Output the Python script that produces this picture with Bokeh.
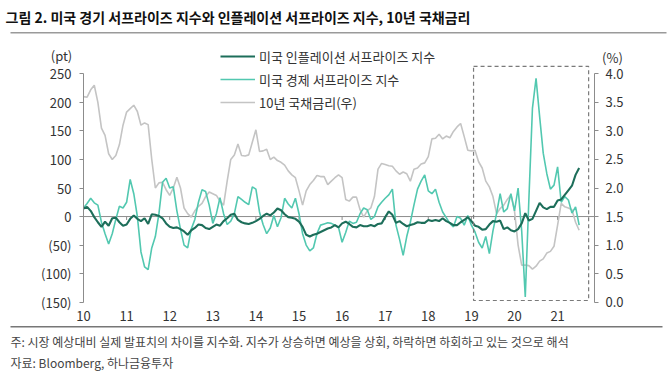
import numpy as np
from bokeh.plotting import figure
from bokeh.models import (Range1d, LinearAxis, FixedTicker, Label, Legend, LegendItem,
                          BoxAnnotation, NumeralTickFormatter)
from bokeh.embed import file_html
from bokeh.resources import INLINE

# ---------------- data (monthly, Jan 2010 - Jul 2021) ----------------
start_year = 2010
econ_surprise = [15, 23, 32, 24, 20, -10, -30, -48, -30, -5, 18, 15, 25, 65, 40, 0, -62, -88, -93, -55,
                 -35, 5, 60, 67, 50, 52, 10, -22, -50, -55, -22, -5, 25, 47, 44, 20, -12, 5, 33, 5,
                 -14, -8, 5, 35, 30, 25, 21, 52, 48, 8, -14, -30, -20, 2, -18, -2, 32, 22, 15, 32, 5,
                 -30, -50, -60, -55, -30, -15, -13, -11, -12, -15, -19, -45, -28, -8, -12, -10, 5, 15, 12, -5,
                 0, 17, 25, 32, 38, 48, -15, -40, -68, -35, -10, 20, 48, 62, 73, 45, 40, 48, 25, 8,
                 -2, -12, -18, 0, -3, -15, 2, -15, -27, -45, -55, -35, -65, -25, 5, 40, 8, 14, 40, 10,
                 50, -25, -141, 30, 190, 242, 175, 111, 75, 48, 55, 87, 25, 35, 29, 6, 17, -15]
infl_surprise = [14, 17, 10, -1, -10, -18, -9, -16, -3, -2, -10, -16, -14, -4, 2, -4, -8, -3, -13, 4,
                 3, 1, -3, -12, -18, -20, -19, -22, -26, -32, -24, -20, -14, -15, -20, -22, -18, -14, -16, -8,
                 -3, 3, 5, -6, -10, -12, -13, -11, -8, -4, 1, 5, 2, 7, 14, 11, 4, -1, -2, -4, -9,
                 -18, -32, -35, -32, -30, -27, -24, -21, -19, -15, -19, -12, -9, -13, -18, -19, -15, -17, -17, -15,
                 -17, -13, -12, -1, 9, 3, -11, -8, -13, -17, -15, -13, -10, -11, -11, -6, -8, -6, -8, -3,
                 -8, -11, -15, -15, -10, -6, -1, -8, -16, -18, -23, -22, -14, -8, -9, -7, -22, -19, -24, -26,
                 -22, -12, 6, -7, -4, 10, 24, 16, 13, 17, 17, 28, 30, 38, 46, 54, 73, 85]
ust10y = [3.60, 3.59, 3.72, 3.80, 3.50, 3.05, 2.92, 2.60, 2.50, 2.57, 2.76, 3.10, 3.33, 3.39, 3.45, 3.34,
          3.10, 3.14, 3.11, 2.50, 2.00, 2.09, 2.10, 1.97, 1.87, 2.00, 2.19, 2.00, 1.65, 1.55, 1.49, 1.60,
          1.68, 1.73, 1.85, 1.93, 1.90, 1.87, 1.77, 1.70, 2.12, 2.50, 2.58, 2.77, 2.57, 2.56, 2.58, 2.80, 3.02,
          2.64, 2.65, 2.68, 2.50, 2.54, 2.48, 2.45, 2.40, 2.30, 2.23, 2.18, 1.95, 1.70, 1.95, 2.06, 2.13,
          2.22, 2.20, 2.20, 2.06, 2.12, 2.18, 2.23, 2.18, 1.80, 1.77, 1.84, 1.84, 1.62, 1.49, 1.60, 1.65,
          1.85, 2.33, 2.43, 2.41, 2.39, 2.38, 2.30, 2.24, 2.28, 2.25, 2.12, 2.33, 2.35, 2.42, 2.44, 2.55,
          2.86, 2.87, 2.94, 2.86, 2.91, 2.88, 2.99, 3.07, 3.13, 2.90, 2.66, 2.65, 2.66, 2.46, 2.35, 2.12,
          2.02, 1.85, 1.55, 1.64, 1.70, 1.80, 1.88, 1.60, 1.00, 0.65, 0.65, 0.64, 0.58, 0.63, 0.72, 0.76,
          0.86, 0.89, 0.98, 1.35, 1.73, 1.67, 1.65, 1.62, 1.40, 1.26]

year_ticks = list(range(2010, 2022))
year_labels = ["10", "11", "12", "13", "14", "15", "16", "17", "18", "19", "20", "21"]
left_ticks = [-150, -100, -50, 0, 50, 100, 150, 200, 250]
left_labels = ["(150)", "(100)", "(50)", "0", "50", "100", "150", "200", "250"]
right_ticks = [0.0, 0.5, 1.0, 1.5, 2.0, 2.5, 3.0, 3.5, 4.0]
highlight_x = [2019.05, 2021.72]
highlight_y = [-147, 263]

x = [start_year + i / 12 for i in range(len(econ_surprise))]

# ---------------- layout (frame = whole canvas, axes at fixed locations) ----------------
W, H = 670, 376
AX_L, AX_R = 83, 594          # canvas x of left / right axis
PX_PER_YEAR = 43.1
Y_TOP_PX, Y_BOT_PX = 73.3, 301.7   # canvas y of 250 and -150
PX_PER_UNIT = (Y_BOT_PX - Y_TOP_PX) / 400.0
ZERO_PX = Y_BOT_PX - 150 * PX_PER_UNIT
FONT = "Noto Sans CJK KR"

x_lo = 2010 - AX_L / PX_PER_YEAR
x_hi = 2010 + (W - AX_L) / PX_PER_YEAR
y_hi = ZERO_PX / PX_PER_UNIT
y_lo = (ZERO_PX - H) / PX_PER_UNIT
x_right_axis = 2010 + (AX_R - AX_L) / PX_PER_YEAR
y_bottom_axis = (ZERO_PX - 303) / PX_PER_UNIT

p = figure(width=W, height=H, output_backend="svg", toolbar_location=None, title=None,
           x_range=Range1d(x_lo, x_hi), y_range=Range1d(y_lo, y_hi),
           min_border=0, min_border_left=0, min_border_right=0, min_border_top=0, min_border_bottom=0)
p.extra_y_ranges = {"rate": Range1d((y_lo + 150) / 100, (y_hi + 150) / 100)}
p.outline_line_color = None
p.xgrid.visible = False
p.ygrid.visible = False
p.background_fill_color = "white"
p.border_fill_color = "white"


def style_axis(ax, standoff):
    ax.axis_line_color = "#8c8c8c"
    ax.major_tick_line_color = "#8c8c8c"
    ax.major_tick_out = 4
    ax.major_tick_in = 0
    ax.minor_tick_line_color = None
    ax.major_label_standoff = standoff
    ax.major_label_text_font = FONT
    ax.major_label_text_font_size = "13px"
    ax.major_label_text_color = "#333333"


# left axis
ya = p.yaxis[0]
style_axis(ya, 8)
ya.ticker = FixedTicker(ticks=left_ticks)
ya.major_label_overrides = {t: l for t, l in zip(left_ticks, left_labels)}
ya.bounds = (-150, 250)
ya.fixed_location = 2010

# right axis
ra = LinearAxis(y_range_name="rate", ticker=FixedTicker(ticks=right_ticks),
                formatter=NumeralTickFormatter(format="0.0"))
style_axis(ra, 7)
ra.bounds = (0, 4)
ra.fixed_location = x_right_axis
p.add_layout(ra, "right")

# bottom axis (labels only; ticks are drawn on the zero line)
xa = p.xaxis[0]
style_axis(xa, 3)
xa.ticker = FixedTicker(ticks=year_ticks)
xa.major_label_overrides = {t: l for t, l in zip(year_ticks, year_labels)}
xa.axis_line_color = None
xa.major_tick_line_color = None
xa.fixed_location = y_bottom_axis

# zero line with year ticks
p.segment(x0=[2010], y0=[0], x1=[x_right_axis], y1=[0], line_color="#8c8c8c", line_width=1)
p.segment(x0=year_ticks, y0=[0] * len(year_ticks), x1=year_ticks, y1=[-6] * len(year_ticks),
          line_color="#8c8c8c", line_width=1)

# series
r_rate = p.line(x, ust10y, y_range_name="rate", line_color="#c4c4c4", line_width=1.6)
r_econ = p.line(x, econ_surprise, line_color="#52c8b0", line_width=1.6)
r_infl = p.line(x, infl_surprise, line_color="#1d6e5a", line_width=2.1)

# highlight box
p.quad(left=[highlight_x[0]], right=[highlight_x[1]], bottom=[highlight_y[0]], top=[highlight_y[1]],
       fill_alpha=0, line_color="#7a7a7a", line_width=1.2, line_dash="4 3")

# legend
leg = Legend(items=[LegendItem(label="미국 인플레이션 서프라이즈 지수", renderers=[r_infl]),
                    LegendItem(label="미국 경제 서프라이즈 지수", renderers=[r_econ]),
                    LegendItem(label="10년 국채금리(우)", renderers=[r_rate])],
             location=(220, H - 112), orientation="vertical",
             border_line_color=None, background_fill_alpha=0, padding=0, margin=0,
             spacing=3, glyph_width=35, glyph_height=20, label_height=20, label_standoff=4,
             label_text_font=FONT, label_text_font_size="13px", label_text_color="#333333")
p.add_layout(leg, "center")


def canvas_label(cx, cy, text, size="12px", bold=False, color="#333333", align="left"):
    return Label(x=cx, y=H - cy, x_units="screen", y_units="screen", text=text,
                 text_font=FONT, text_font_size=size, text_color=color,
                 text_font_style="bold" if bold else "normal",
                 text_align=align, text_baseline="middle")


p.add_layout(canvas_label(5, 16, "그림 2. 미국 경기 서프라이즈 지수와 인플레이션 서프라이즈 지수, 10년 국채금리",
                          size="14px", bold=True, color="#111111"))
p.add_layout(canvas_label(61, 55, "(pt)", size="13px", align="center"))
p.add_layout(canvas_label(612, 57, "(%)", size="13px", align="center"))
p.add_layout(canvas_label(10, 341, "주: 시장 예상대비 실제 발표치의 차이를 지수화. 지수가 상승하면 예상을 상회, 하락하면 하회하고 있는 것으로 해석",
                          size="12px", color="#444444"))
p.add_layout(canvas_label(10, 362, "자료: Bloomberg, 하나금융투자", size="12px", color="#444444"))

# horizontal rules (title and footer)
p.add_layout(BoxAnnotation(left=10, right=666, top=H - 31.5, bottom=H - 33,
                           left_units="screen", right_units="screen", top_units="screen", bottom_units="screen",
                           fill_color="#9a9a9a", fill_alpha=1, line_color=None))
p.add_layout(BoxAnnotation(left=10, right=662, top=H - 325.5, bottom=H - 327,
                           left_units="screen", right_units="screen", top_units="screen", bottom_units="screen",
                           fill_color="#777777", fill_alpha=1, line_color=None))

open("out.html", "w").write(file_html(p, INLINE))
